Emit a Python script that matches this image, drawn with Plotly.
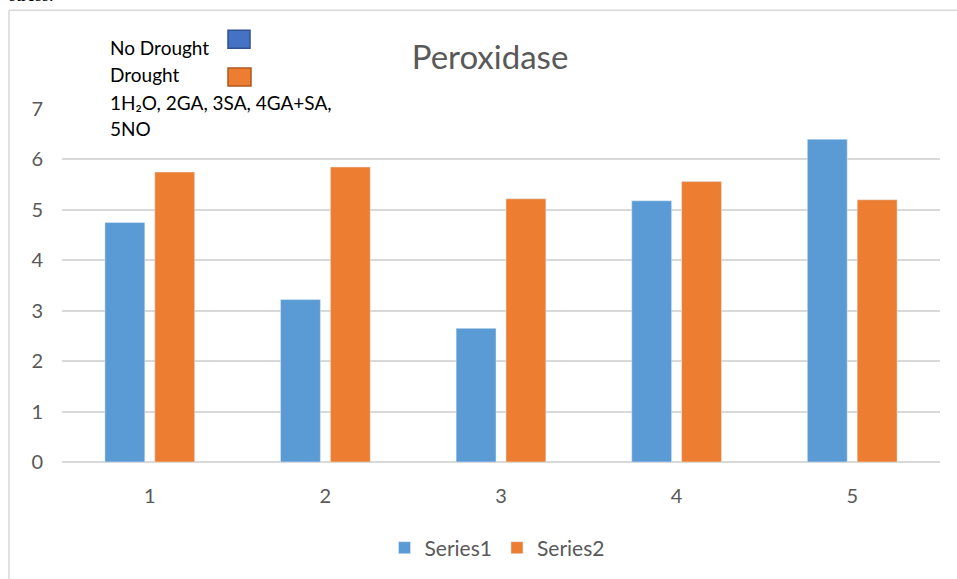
import plotly.graph_objects as go

categories = ["1", "2", "3", "4", "5"]
series1 = [4.75, 3.22, 2.65, 5.18, 6.40]
series2 = [5.75, 5.85, 5.22, 5.56, 5.20]
y_ticks = [0, 1, 2, 3, 4, 5, 6, 7]

W, H = 957, 579
L, R, T, B = 62, 17, 109, 116
PW, PH = W - L - R, H - T - B

def px(x):
    return (x - L) / PW

def py(y):
    return 1 - (y - T) / PH

fig = go.Figure()
fig.add_trace(go.Bar(x=categories, y=series1, name="Series1", marker_color="#5B9BD5"))
fig.add_trace(go.Bar(x=categories, y=series2, name="Series2", marker_color="#ED7D31"))

grey = "#595959"
font = "Lato, 'Open Sans', sans-serif"

fig.update_layout(
    width=W, height=H,
    margin=dict(l=L, r=R, t=T, b=B),
    paper_bgcolor="white", plot_bgcolor="white",
    barmode="group", bargap=0.432, bargroupgap=0.2,
    title=dict(text="Peroxidase", x=px(490), xanchor="center", xref="paper",
               y=1 - 57 / H, yanchor="middle",
               font=dict(family=font, size=33, color=grey)),
    legend=dict(orientation="h", x=px(497), xanchor="center", y=py(548), yanchor="middle",
                font=dict(family=font, size=21, color=grey), itemwidth=30,
                traceorder="normal"),
    showlegend=True,
)
fig.update_yaxes(range=[0, 7], tickvals=y_ticks, showgrid=True, gridcolor="#d9d9d9", gridwidth=1.5,
                 zeroline=True, zerolinecolor="#d9d9d9", zerolinewidth=1.5,
                 tickfont=dict(family=font, size=20, color=grey), ticklabelstandoff=18,
                 showline=False, fixedrange=True)
fig.update_xaxes(showgrid=False, showline=False, tickfont=dict(family=font, size=20, color=grey),
                 ticklabelstandoff=20)

shapes = [
    dict(type="line", xref="paper", yref="paper", x0=px(9), x1=px(957), y0=py(10), y1=py(10),
         line=dict(color="#d9d9d9", width=1.5), layer="above"),
    dict(type="line", xref="paper", yref="paper", x0=px(9), x1=px(9), y0=py(10), y1=py(585),
         line=dict(color="#d9d9d9", width=1.5), layer="above"),
    dict(type="rect", xref="paper", yref="paper", x0=px(90), x1=px(366), y0=py(22), y1=py(152),
         fillcolor="white", line=dict(width=0), layer="above"),
    dict(type="rect", xref="paper", yref="paper", x0=px(228), x1=px(250), y0=py(30), y1=py(48),
         fillcolor="#4472C4", line=dict(color="#2F528F", width=1.5), layer="above"),
    dict(type="rect", xref="paper", yref="paper", x0=px(228), x1=px(251), y0=py(68), y1=py(86),
         fillcolor="#ED7D31", line=dict(color="#AE5A21", width=1.5), layer="above"),
]
fig.update_layout(shapes=shapes)

box_lines = [("No Drought", 47), ("Drought", 74), ("1H₂O, 2GA, 3SA, 4GA+SA,", 102), ("5NO", 129)]
for txt, yy in box_lines:
    fig.add_annotation(text=txt, xref="paper", yref="paper", x=px(108), y=py(yy),
                       xanchor="left", yanchor="middle", showarrow=False,
                       font=dict(family=font, size=19, color="black"))

fig.add_annotation(text="stress.", xref="paper", yref="paper", x=px(7), y=py(-5),
                   xanchor="left", yanchor="middle", showarrow=False,
                   font=dict(family="Liberation Serif", size=18, color="black"))

fig.write_html("out.html")
